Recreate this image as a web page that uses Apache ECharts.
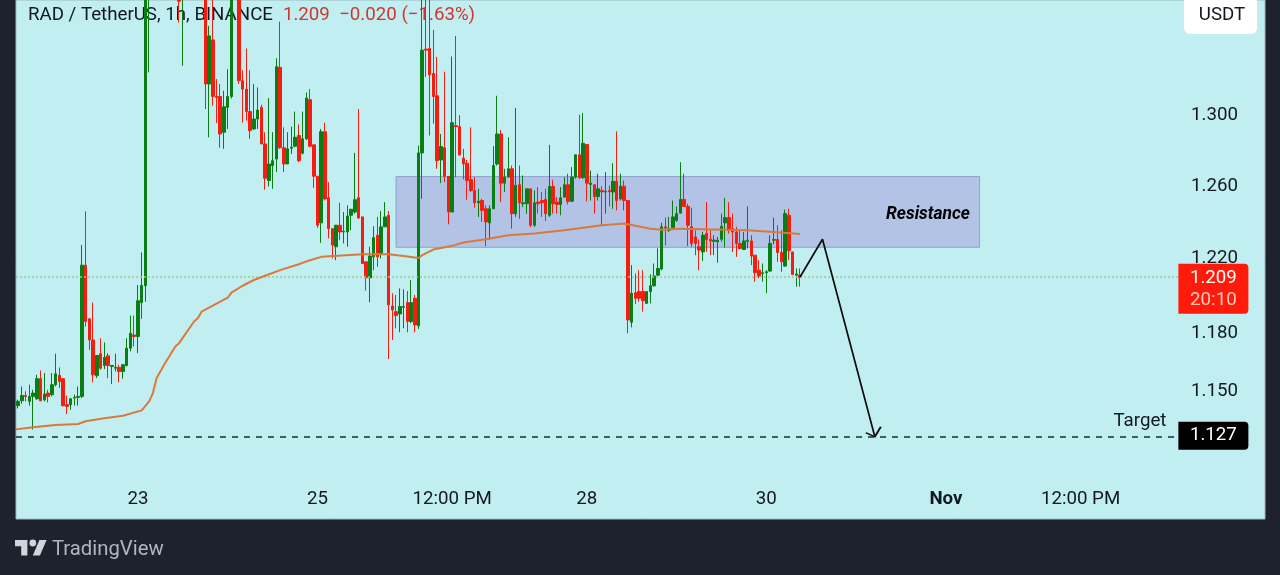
<!DOCTYPE html>
<html><head><meta charset="utf-8">
<style>html,body{margin:0;padding:0;background:#1e222d;overflow:hidden}#c{width:1280px;height:575px}</style>
<script src="https://cdn.jsdelivr.net/npm/echarts@6/dist/echarts.min.js"></script>
</head><body><div id="c"></div>
<script>
// prices, one entry per hourly bar (bars 35-49 and 58 run above the visible top)
const opens=[1.1427,1.1452,1.1479,1.1449,1.1474,1.1462,1.1565,1.1457,1.1491,1.1483,1.1534,1.1582,1.1565,1.1432,1.1432,1.1466,1.1469,1.1474,1.2164,1.1877,1.1766,1.1580,1.1694,1.1633,1.1683,1.1628,1.1619,1.1623,1.1602,1.1633,1.1723,1.1792,1.1784,1.1963,1.2053,1.385,1.42,1.44,1.43,1.41,1.42,1.40,1.41,1.395,1.372,1.39,1.40,1.39,1.395,1.385,1.385,1.3185,1.3446,1.3112,1.3112,1.2905,1.3049,1.3112,1.372,1.38,1.3204,1.3155,1.3024,1.2924,1.2981,1.3049,1.2838,1.2631,1.2715,1.2752,1.3283,1.2816,1.2724,1.2814,1.2825,1.2886,1.2785,1.2867,1.3093,1.2833,1.2655,1.2395,1.2908,1.2534,1.2363,1.2264,1.2382,1.2345,1.2345,1.2437,1.2455,1.2534,1.2428,1.2182,1.2096,1.2209,1.2327,1.2227,1.2373,1.2437,1.1945,1.1915,1.1903,1.1938,1.1963,1.1863,1.1986,1.1840,1.2787,1.3391,1.3395,1.3247,1.3116,1.2747,1.2816,1.2654,1.2455,1.2943,1.2937,1.2757,1.2728,1.2635,1.2575,1.2506,1.2519,1.2473,1.2395,1.2473,1.2724,1.2895,1.2616,1.2650,1.2697,1.2446,1.2607,1.2501,1.2501,1.2584,1.2382,1.2510,1.2519,1.2525,1.2437,1.2597,1.2510,1.2497,1.2538,1.2607,1.2515,1.2650,1.2776,1.2646,1.2835,1.2609,1.2607,1.2541,1.2575,1.2566,1.2575,1.2566,1.2626,1.2528,1.2599,1.2519,1.1859,1.2016,1.2022,1.2022,1.1959,1.2022,1.2053,1.2110,1.2143,1.2373,1.2354,1.2369,1.2409,1.2449,1.2525,1.2486,1.2373,1.2318,1.2264,1.2236,1.2336,1.2305,1.2294,1.2291,1.2305,1.2395,1.2424,1.2363,1.2345,1.2282,1.2249,1.2294,1.2296,1.2218,1.2137,1.2119,1.2123,1.2132,1.2300,1.2303,1.2233,1.2159,1.2437,1.2236,1.2110,1.2110];
const closes=[1.1449,1.1479,1.1474,1.1474,1.1491,1.1565,1.1452,1.1486,1.1474,1.1534,1.1590,1.1551,1.1427,1.1423,1.1462,1.1469,1.1474,1.2164,1.1863,1.1766,1.1585,1.1685,1.1619,1.1675,1.1633,1.1633,1.1623,1.1602,1.1637,1.1723,1.1801,1.1784,1.1973,1.2055,1.3900,1.42,1.44,1.43,1.41,1.42,1.40,1.41,1.395,1.3680,1.39,1.40,1.39,1.395,1.385,1.39,1.3185,1.3470,1.3112,1.3106,1.2895,1.3052,1.3112,1.372,1.38,1.3204,1.3155,1.3024,1.2914,1.2981,1.3033,1.2838,1.2644,1.2724,1.2743,1.3287,1.2816,1.2724,1.2810,1.2819,1.2876,1.2743,1.2867,1.3103,1.2825,1.2655,1.2382,1.2908,1.2528,1.2363,1.2273,1.2382,1.2345,1.2349,1.2433,1.2470,1.2523,1.2422,1.2173,1.2096,1.2213,1.2314,1.2209,1.2373,1.2428,1.1951,1.1924,1.1894,1.1942,1.1942,1.1863,1.1963,1.1845,1.2787,1.3385,1.3385,1.3239,1.3112,1.2743,1.2823,1.2654,1.2455,1.2960,1.2937,1.2776,1.2724,1.2631,1.2575,1.2506,1.2515,1.2464,1.2400,1.2473,1.2715,1.2895,1.2616,1.2650,1.2697,1.2446,1.2603,1.2506,1.2506,1.2584,1.2382,1.2506,1.2501,1.2506,1.2446,1.2597,1.2501,1.2497,1.2534,1.2607,1.2514,1.2650,1.2776,1.2646,1.2842,1.2616,1.2616,1.2541,1.2584,1.2568,1.2570,1.2568,1.2626,1.2519,1.2599,1.2519,1.1871,1.2013,1.1986,1.1986,1.1973,1.2022,1.2053,1.2105,1.2146,1.2373,1.2367,1.2363,1.2428,1.2446,1.2525,1.2486,1.2382,1.2282,1.2282,1.2246,1.2327,1.2303,1.2296,1.2300,1.2300,1.2376,1.2424,1.2354,1.2345,1.2282,1.2255,1.2296,1.2300,1.2213,1.2123,1.2105,1.2123,1.2128,1.2282,1.2303,1.2233,1.2182,1.2446,1.2242,1.2114,1.2116,1.2098];
const highs=[1.1457,1.1525,1.1500,1.1534,1.1508,1.1585,1.1607,1.1594,1.1508,1.1594,1.1694,1.1623,1.1565,1.1478,1.1466,1.1483,1.1525,1.2273,1.2459,1.1880,1.1963,1.1685,1.1775,1.1753,1.1697,1.1633,1.1694,1.1637,1.1637,1.1775,1.1894,1.1894,1.2057,1.2233,1.4000,1.43,1.45,1.46,1.45,1.44,1.43,1.43,1.42,1.41,1.40,1.42,1.41,1.41,1.41,1.40,1.395,1.3530,1.37,1.3214,1.3185,1.3146,1.3272,1.385,1.39,1.39,1.3266,1.3395,1.3266,1.3185,1.3165,1.3064,1.2905,1.3103,1.2905,1.3337,1.3556,1.2933,1.2905,1.2937,1.3024,1.2950,1.3024,1.3136,1.3155,1.2833,1.2655,1.2924,1.2960,1.2622,1.2363,1.2382,1.2506,1.2455,1.2492,1.2473,1.2787,1.3039,1.2428,1.2182,1.2264,1.2376,1.2428,1.2460,1.2510,1.2460,1.2013,1.2004,1.2039,1.2034,1.2025,1.2084,1.2004,1.2829,1.3750,1.3750,1.38,1.3506,1.3345,1.2895,1.3257,1.2654,1.3347,1.3470,1.3004,1.2810,1.2747,1.2933,1.2650,1.2584,1.2528,1.2492,1.2492,1.2825,1.3116,1.2918,1.2697,1.2876,1.2715,1.3045,1.2715,1.2659,1.2584,1.2584,1.2575,1.2594,1.2566,1.2584,1.2833,1.2635,1.2538,1.2594,1.2650,1.2669,1.2706,1.2776,1.3006,1.3016,1.2838,1.2687,1.2607,1.2669,1.2599,1.2678,1.2603,1.2728,1.2910,1.2669,1.2631,1.2519,1.2164,1.2119,1.2137,1.2137,1.2022,1.2114,1.2173,1.2255,1.2395,1.2424,1.2428,1.2519,1.2486,1.2734,1.2669,1.2501,1.2479,1.2354,1.2303,1.2345,1.2510,1.2354,1.2327,1.2318,1.2446,1.2534,1.2510,1.2446,1.2373,1.2354,1.2345,1.2486,1.2327,1.2218,1.2191,1.2173,1.2137,1.2327,1.2424,1.2382,1.2354,1.2468,1.2473,1.2236,1.2146,1.2146];
const lows=[1.1413,1.1437,1.1449,1.1427,1.1306,1.1457,1.1449,1.1449,1.1443,1.1474,1.1525,1.1517,1.1423,1.1384,1.1406,1.1427,1.1427,1.1466,1.1836,1.1714,1.1546,1.1568,1.1611,1.1614,1.1568,1.1537,1.1602,1.1546,1.1565,1.1628,1.1706,1.1732,1.1697,1.1877,1.1968,1.3253,1.40,1.41,1.40,1.39,1.39,1.385,1.38,1.3550,1.3292,1.375,1.38,1.38,1.375,1.372,1.3039,1.2876,1.3058,1.2958,1.2816,1.2810,1.2924,1.3100,1.37,1.3185,1.2960,1.2972,1.2867,1.2918,1.2924,1.2838,1.2579,1.2597,1.2584,1.2678,1.2810,1.2678,1.2724,1.2781,1.2819,1.2734,1.2778,1.2861,1.2819,1.2590,1.2367,1.2285,1.2519,1.2309,1.2200,1.2191,1.2300,1.2282,1.2264,1.2354,1.2446,1.2418,1.2173,1.2027,1.1965,1.2137,1.2155,1.2200,1.2373,1.1666,1.1766,1.1827,1.1806,1.1827,1.1806,1.1854,1.1806,1.1824,1.2528,1.3227,1.2886,1.2954,1.2697,1.2616,1.2622,1.2387,1.2455,1.2650,1.2772,1.2637,1.2523,1.2566,1.2479,1.2428,1.2400,1.2267,1.2303,1.2473,1.2715,1.2510,1.2566,1.2650,1.2363,1.2428,1.2418,1.2482,1.2446,1.2373,1.2373,1.2446,1.2428,1.2405,1.2428,1.2446,1.2446,1.2437,1.2534,1.2497,1.2510,1.2641,1.2641,1.2641,1.2514,1.2519,1.2446,1.2519,1.2382,1.2446,1.2486,1.2473,1.2464,1.2519,1.2464,1.1801,1.1832,1.1956,1.1968,1.1915,1.1956,1.1959,1.2048,1.2105,1.2137,1.2273,1.2345,1.2363,1.2400,1.2446,1.2482,1.2267,1.2264,1.2218,1.2137,1.2187,1.2236,1.2218,1.2218,1.2177,1.2291,1.2260,1.2336,1.2236,1.2209,1.2249,1.2246,1.2255,1.2164,1.2075,1.2093,1.2075,1.2013,1.2128,1.2278,1.2182,1.2128,1.2155,1.2191,1.2110,1.2048,1.2048];
// moving average, read at these bars
const maBars=[-0.6,4,10,16,18,23,28,33,35,36,37,39,42,43,47,48,49,52,56,57,60,63,66,70,75,78,81,92,99,103,107,108,111,116,119,125,131,138,146,153,156,162,169,172,177,186,195,202,209];
const maValues=[1.1307,1.1318,1.1329,1.1334,1.1348,1.1363,1.1376,1.1403,1.1449,1.1491,1.1568,1.1637,1.1732,1.1749,1.1863,1.1880,1.1915,1.1947,1.1989,1.2016,1.2053,1.2084,1.2107,1.2137,1.2169,1.2191,1.2209,1.2223,1.2223,1.2214,1.2203,1.2218,1.2249,1.2269,1.2287,1.2305,1.2327,1.2336,1.2354,1.2373,1.2382,1.2391,1.2363,1.2357,1.2363,1.2359,1.2354,1.2345,1.2334];
// projected path
const pathBars=[209,215,229];
const pathValues=[1.2100,1.2305,1.1270];
// levels
const lastPrice=1.2102, lastPriceLabel='1.209', targetPrice=1.127, zoneTop=1.2653, zoneBottom=1.2261, zoneFrom=101, zoneTo=257;
const priceTicks=[1.15,1.18,1.22,1.26,1.30];
const timeTickBars=[32,80,116,152,200,248,284];
const timeTickLabels=['23','25','12:00 PM','28','30','Nov','12:00 PM'];

const UP='#0a7d14', DOWN='#f51d10', FONT='Roboto', FS=18.7;
const candleRows=opens.map((o,i)=>[i,o,closes[i],lows[i],highs[i]]);
const lastX=310, tagX=319.5;
const chart=echarts.init(document.getElementById('c'),null,{renderer:'canvas'});
chart.setOption({
  animation:false,
  backgroundColor:'#1e222d',
  title:{left:23,top:1,z:1,text:'{a|RAD / TetherUS, 1h, BINANCE}  {b|1.209  −0.020 (−1.63%)}',
    textStyle:{fontWeight:'normal',rich:{a:{fontFamily:FONT,fontSize:FS,fontWeight:'normal',color:'#131722'},b:{fontFamily:FONT,fontSize:FS,fontWeight:'normal',color:'#d0352e'}}}},
  grid:{left:16,right:15,top:-1,height:520,show:true,backgroundColor:'#c1eef1',borderWidth:1,borderColor:'#9fb8bf',containLabel:false},
  xAxis:{type:'value',min:-0.6,max:333.3,splitLine:{show:false},axisLine:{show:false},axisTick:{show:false},
    axisLabel:{inside:true,margin:10,customValues:timeTickBars,fontFamily:FONT,fontSize:FS,color:'#131722',
      formatter:v=>{const l=timeTickLabels[timeTickBars.indexOf(v)];return l==='Nov'?'{b|Nov}':(l||'');},
      rich:{b:{fontFamily:FONT,fontSize:FS,fontWeight:'bold',color:'#131722'}}}},
  yAxis:{type:'log',min:1.0865,max:1.3687,position:'right',splitLine:{show:false},axisLine:{show:false},axisTick:{show:false},minorTick:{show:false},
    axisLabel:{inside:true,margin:27,padding:[6,0,0,0],customValues:priceTicks,fontFamily:FONT,fontSize:FS,color:'#131722',formatter:v=>v.toFixed(3)}},
  graphic:[
    {type:'rect',z:10,shape:{x:1184,y:-6,width:73,height:40,r:6},style:{fill:'#ffffff'}},
    {type:'text',z:11,x:1222,y:15,style:{text:'USDT',fontFamily:FONT,fontSize:FS,fill:'#131722',align:'center',verticalAlign:'middle'}},
    {type:'polygon',shape:{points:[[15,540],[27.4,540],[27.4,555.5],[21.2,555.5],[21.2,546.2],[15,546.2]]},style:{fill:'#d1d4dc'}},
    {type:'polygon',shape:{points:[[32.8,555.5],[39.4,540],[46.6,540],[39.9,555.5]]},style:{fill:'#d1d4dc'}},
    {type:'circle',shape:{cx:32.8,cy:543,r:3.4},style:{fill:'#d1d4dc'}},
    {type:'text',x:52,y:550,style:{text:'TradingView',fontFamily:FONT,fontSize:20.3,fill:'#b2b5be',verticalAlign:'middle'}}
  ],
  series:[
    {type:'candlestick',data:candleRows,barWidth:3,z:2,
      itemStyle:{color:UP,color0:DOWN,borderColor:UP,borderColor0:DOWN,borderWidth:1},
      markArea:{silent:true,z:1,itemStyle:{color:'rgba(150,108,205,0.33)',borderColor:'#8fa3d0',borderWidth:1},
        data:[[{coord:[zoneFrom,zoneTop]},{coord:[zoneTo,zoneBottom]}]]},
      markLine:{silent:true,symbol:'none',label:{show:false},z:3,data:[
        [{coord:[-0.6,targetPrice],lineStyle:{color:'#1b2b33',type:[6,6],width:1.5}},{coord:[lastX,targetPrice]}],
        [{coord:[-0.6,lastPrice],lineStyle:{color:'#a3c98a',type:[2,2],width:1.5}},{coord:[lastX,lastPrice]}]]},
      markPoint:{silent:true,symbolSize:0,z:8,data:[
        {coord:[243.2,1.2453],label:{show:true,position:'inside',offset:[0,2],formatter:'Resistance',fontFamily:FONT,fontSize:17.4,fontWeight:'bold',fontStyle:'italic',color:'#000'}},
        {coord:[300,targetPrice],label:{show:true,position:'inside',offset:[-0.5,-15],formatter:'Target',fontFamily:FONT,fontSize:FS,color:'#131722'}},
        {coord:[tagX,targetPrice],label:{show:true,position:'inside',offset:[0,-1],formatter:targetPrice.toFixed(3),fontFamily:FONT,fontSize:FS,color:'#fff',backgroundColor:'#000',width:70,height:26,lineHeight:26,padding:[2,0,0,0],align:'center',verticalAlign:'middle',borderRadius:[0,4,4,0]}},
        {coord:[tagX,lastPrice],label:{show:true,position:'inside',offset:[0,12],formatter:'{p|'+lastPriceLabel+'}\n{t|20:10}',backgroundColor:'#ff1a0a',width:70,height:44,padding:[4,0,2,0],align:'center',verticalAlign:'middle',borderRadius:[0,4,4,0],
          rich:{p:{fontFamily:FONT,fontSize:FS,color:'#fff',lineHeight:22,width:70,align:'center'},t:{fontFamily:FONT,fontSize:FS,color:'#ffc9c0',lineHeight:22,width:70,align:'center'}}}}
      ]}},
    {type:'line',data:maBars.map((b,i)=>[b,maValues[i]]),showSymbol:false,z:3,lineStyle:{color:'#d97a3c',width:2},silent:true},
    {type:'line',data:pathBars.map((b,i)=>[b,pathValues[i]]),showSymbol:false,z:6,lineStyle:{color:'#0b0b0b',width:1.7},silent:true,
      markPoint:{silent:true,z:7,symbol:'path://M0 6L9 10L15 0',symbolSize:[15,10],symbolOffset:[-1.5,-5],symbolKeepAspect:false,
        itemStyle:{color:'none',borderColor:'#0b0b0b',borderWidth:1.7},label:{show:false},data:[{coord:[pathBars[2],pathValues[2]]}]}}
  ]
});
</script></body></html>
